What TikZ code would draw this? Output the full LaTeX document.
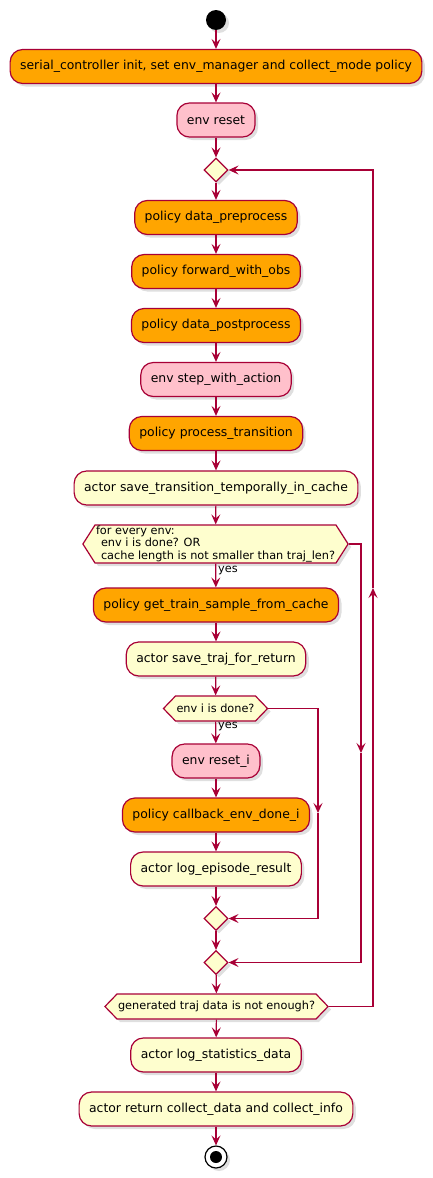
\documentclass[tikz,border=0pt]{standalone}
\usepackage{fontspec}
\setmainfont{DejaVu Sans}
\usepackage{tikz}
\usetikzlibrary{arrows.meta, shapes.symbols, shapes.geometric, shadows}
\definecolor{border}{HTML}{A80036}
\definecolor{policyfill}{HTML}{FFA500}
\definecolor{envfill}{HTML}{FFC0CB}
\definecolor{actorfill}{HTML}{FEFECE}
\tikzset{
  shade/.style = {drop shadow={shadow xshift=3pt, shadow yshift=-3pt,
    opacity=0.25}},
  act/.style = {rounded corners=12.5pt, draw=border, line width=1.2pt,
    minimum height=34pt, inner xsep=10pt, font=\fontsize{12.4}{14}\selectfont,
    shade},
  pol/.style = {act, fill=policyfill},
  envact/.style = {act, fill=envfill},
  actor/.style = {act, fill=actorfill},
  hexa/.style = {signal, signal to=west and east, signal pointer angle=#1,
    draw=border, fill=actorfill, line width=1.2pt, inner xsep=1pt,
    inner ysep=0pt, font=\fontsize{11.3}{12.7}\selectfont, shade},
  merge/.style = {diamond, draw=border, fill=actorfill, line width=1.2pt,
    minimum width=24pt, minimum height=24pt, inner sep=0pt, shade},
  flow/.style = {draw=border, line width=1.2pt}
}

\begin{document}
\begin{tikzpicture}[x=1pt, y=-1pt, ->, >={Stealth[length=10pt, width=9pt, inset=4pt]}]
\useasboundingbox (0,0) rectangle (432,1178);

\node [circle, fill=black, minimum size=20pt, inner sep=0pt, shade] (start) at (216,20) {};
\node [pol] (init) at (216,66.5) {serial\_controller init, set env\_manager and collect\_mode policy};
\node [envact] (reset) at (216,120) {env reset};
\node [merge] (loop) at (216,170) {};
\node [pol] (pre) at (216,217.5) {policy data\_preprocess};
\node [pol] (fwd) at (216,271.5) {policy forward\_with\_obs};
\node [pol] (post) at (216,325.5) {policy data\_postprocess};
\node [envact] (step) at (216,379.5) {env step\_with\_action};
\node [pol] (trans) at (216,433.5) {policy process\_transition};
\node [actor] (cache) at (216,488) {actor save\_transition\_temporally\_in\_cache};
\node [hexa=115, align=left, minimum height=38pt] (every) at (215.5,544)
  {for every env:\\\hspace{5pt}env i is done? OR\\\hspace{5pt}cache length is not smaller than traj\_len?};
\node [pol] (sample) at (216,605) {policy get\_train\_sample\_from\_cache};
\node [actor] (traj) at (216,659) {actor save\_traj\_for\_return};
\node [hexa=92, minimum height=25pt, minimum width=103pt] (done) at (215.5,708.5) {env i is done?};
\node [envact] (reseti) at (216,761) {env reset\_i};
\node [pol] (callback) at (216,815) {policy callback\_env\_done\_i};
\node [actor] (episode) at (216,869) {actor log\_episode\_result};
\node [merge] (endif) at (216,918.5) {};
\node [merge] (endevery) at (216,962.5) {};
\node [hexa=92, minimum height=25pt, minimum width=223pt] (enough) at (216.5,1006.5) {generated traj data is not enough?};
\node [actor] (stats) at (216,1055) {actor log\_statistics\_data};
\node [actor] (ret) at (216,1109) {actor return collect\_data and collect\_info};
\node [circle, draw=black, line width=1.2pt, fill=white, minimum size=22pt, inner sep=0pt, shade] (stop) at (216,1157) {};
\fill [black] (stop) circle (6pt);

% yes labels
\node [anchor=west, inner sep=1pt, font=\fontsize{11.3}{12}\selectfont] (yes1) at (217,570.5) {yes};
\node [anchor=west, inner sep=1pt, font=\fontsize{11.3}{12}\selectfont] (yes2) at (217,727) {yes};

% main flow
\draw [flow] (start) -- (init);
\draw [flow] (init) -- (reset);
\draw [flow] (reset) -- (loop);
\draw [flow] (loop) -- (pre);
\draw [flow] (pre) -- (fwd);
\draw [flow] (fwd) -- (post);
\draw [flow] (post) -- (step);
\draw [flow] (step) -- (trans);
\draw [flow] (trans) -- (cache);
\draw [flow] (cache) -- (every);
\draw [flow] (every) -- (sample);
\draw [flow] (sample) -- (traj);
\draw [flow] (traj) -- (done);
\draw [flow] (done) -- (reseti);
\draw [flow] (reseti) -- (callback);
\draw [flow] (callback) -- (episode);
\draw [flow] (episode) -- (endif);
\draw [flow] (endif) -- (endevery);
\draw [flow] (endevery) -- (enough);
\draw [flow] (enough) -- (stats);
\draw [flow] (stats) -- (ret);
\draw [flow] (ret) -- (stop);

% branches and loop back
\coordinate (donemid) at (318,813);
\draw [flow] (done.east) -| (donemid);
\draw [flow] (donemid) |- (endif.east);
\coordinate (everymid) at (361,753);
\draw [flow] (every.east) -| (everymid);
\draw [flow] (everymid) |- (endevery.east);
\coordinate (backmid) at (373,588);
\draw [flow] (enough.east) -| (backmid);
\draw [flow] (backmid) |- (loop.east);
\end{tikzpicture}
\end{document}
